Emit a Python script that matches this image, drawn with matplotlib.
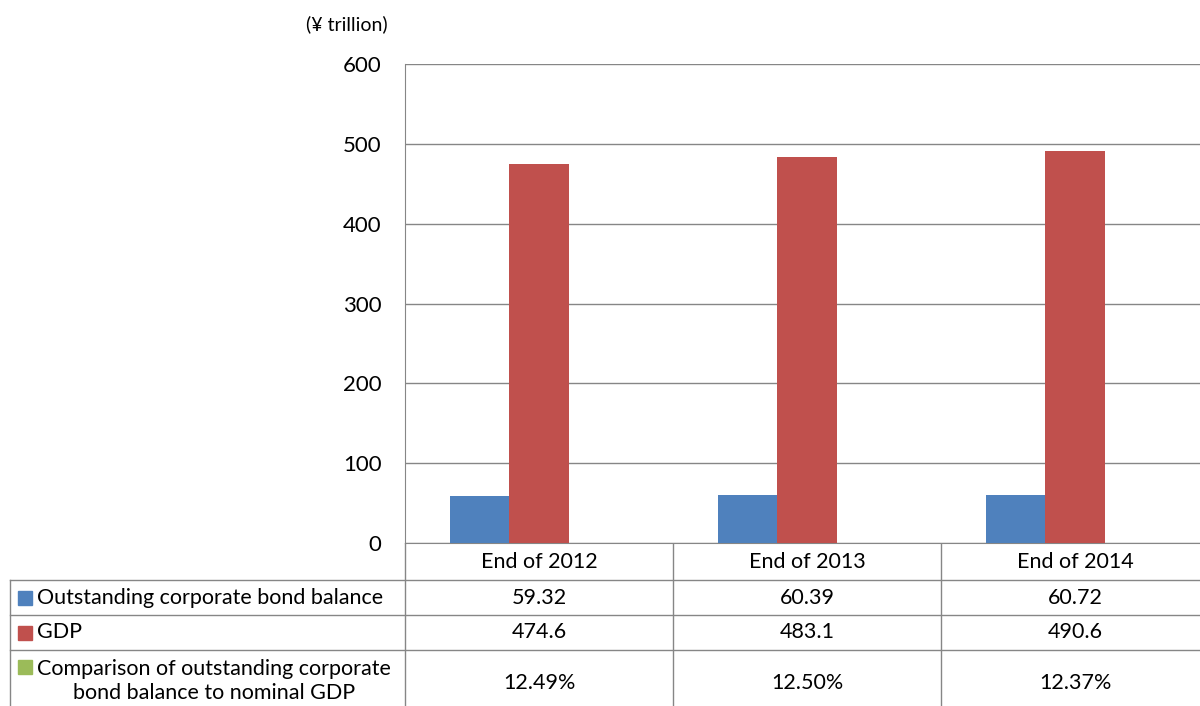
import numpy as np
import matplotlib.pyplot as plt

plt.rcParams['font.family'] = ['Lato', 'DejaVu Sans']

categories = ["End of 2012", "End of 2013", "End of 2014"]
bond_balance = [59.32, 60.39, 60.72]
gdp = [474.6, 483.1, 490.6]
ratio = [0.1249, 0.1250, 0.1237]
row_labels = ["Outstanding corporate bond balance", "GDP",
              "Comparison of outstanding corporate\nbond balance to nominal GDP"]
row_colors = ["#4F81BD", "#C0504D", "#9BBB59"]
yticks = [0, 100, 200, 300, 400, 500, 600]

W, H = 1200, 706
fig = plt.figure(figsize=(12, 7.06), dpi=100)

# main chart area (extends a bit past the right edge like the original)
ax = fig.add_axes([405 / W, 163 / H, 804 / W, 479 / H])
x = np.arange(len(categories))
bw = 0.222
ax.bar(x - bw, bond_balance, bw, color=row_colors[0], zorder=3)
ax.bar(x, gdp, bw, color=row_colors[1], zorder=3)
ax.bar(x + bw, ratio, bw, color=row_colors[2], zorder=3)  # ratio is tiny on this scale
ax.set_xlim(-0.5, len(categories) - 0.5)
ax.set_ylim(0, 600)
ax.set_yticks(yticks)
ax.set_xticks([])
ax.tick_params(axis='y', length=0, pad=17, labelsize=16, labelcolor='#000000')
ax.grid(axis='y', color='#868686', linewidth=1, zorder=0)
for s in ['left', 'bottom']:
    ax.spines[s].set_color('#868686')
for s in ['top', 'right']:
    ax.spines[s].set_visible(False)
fig.text(347 / W, 1 - 24 / H, "(¥ trillion)", ha='center', va='center', fontsize=14)

# data table below
tb = fig.add_axes([0, 0, 1209 / W, 163 / H])
tb.set_xlim(0, 1209)
tb.set_ylim(706, 543)
tb.axis('off')
gc = '#868686'
fs = 15.5
col_edges = [405, 673, 941, 1209]
row_edges = [543, 580, 615, 650, 720]
for xe in col_edges[:-1]:
    tb.plot([xe, xe], [543, 720], color=gc, lw=1)
tb.plot([10, 10], [580, 720], color=gc, lw=1)
for ye in row_edges[1:-1]:
    tb.plot([10, 1209], [ye, ye], color=gc, lw=1)

for j, c in enumerate(categories):
    cx = (col_edges[j] + col_edges[j + 1]) / 2
    tb.text(cx, 561.5, c, ha='center', va='center', fontsize=fs)
    tb.text(cx, 597.5, f"{bond_balance[j]:.2f}", ha='center', va='center', fontsize=fs)
    tb.text(cx, 632.5, f"{gdp[j]:.1f}", ha='center', va='center', fontsize=fs)
    tb.text(cx, 683, f"{ratio[j] * 100:.2f}%", ha='center', va='center', fontsize=fs)

label_y = [597.5, 632.5, 667]
for i, lab in enumerate(row_labels):
    tb.add_patch(plt.Rectangle((18, label_y[i] - 7), 14, 14, color=row_colors[i], clip_on=False))
    if i < 2:
        tb.text(37, label_y[i], lab, ha='left', va='center', fontsize=fs)
    else:
        tb.text(37, 681, lab, ha='left', va='center', fontsize=fs,
                multialignment='center', linespacing=1.2)

fig.savefig("out.png", dpi=100)
